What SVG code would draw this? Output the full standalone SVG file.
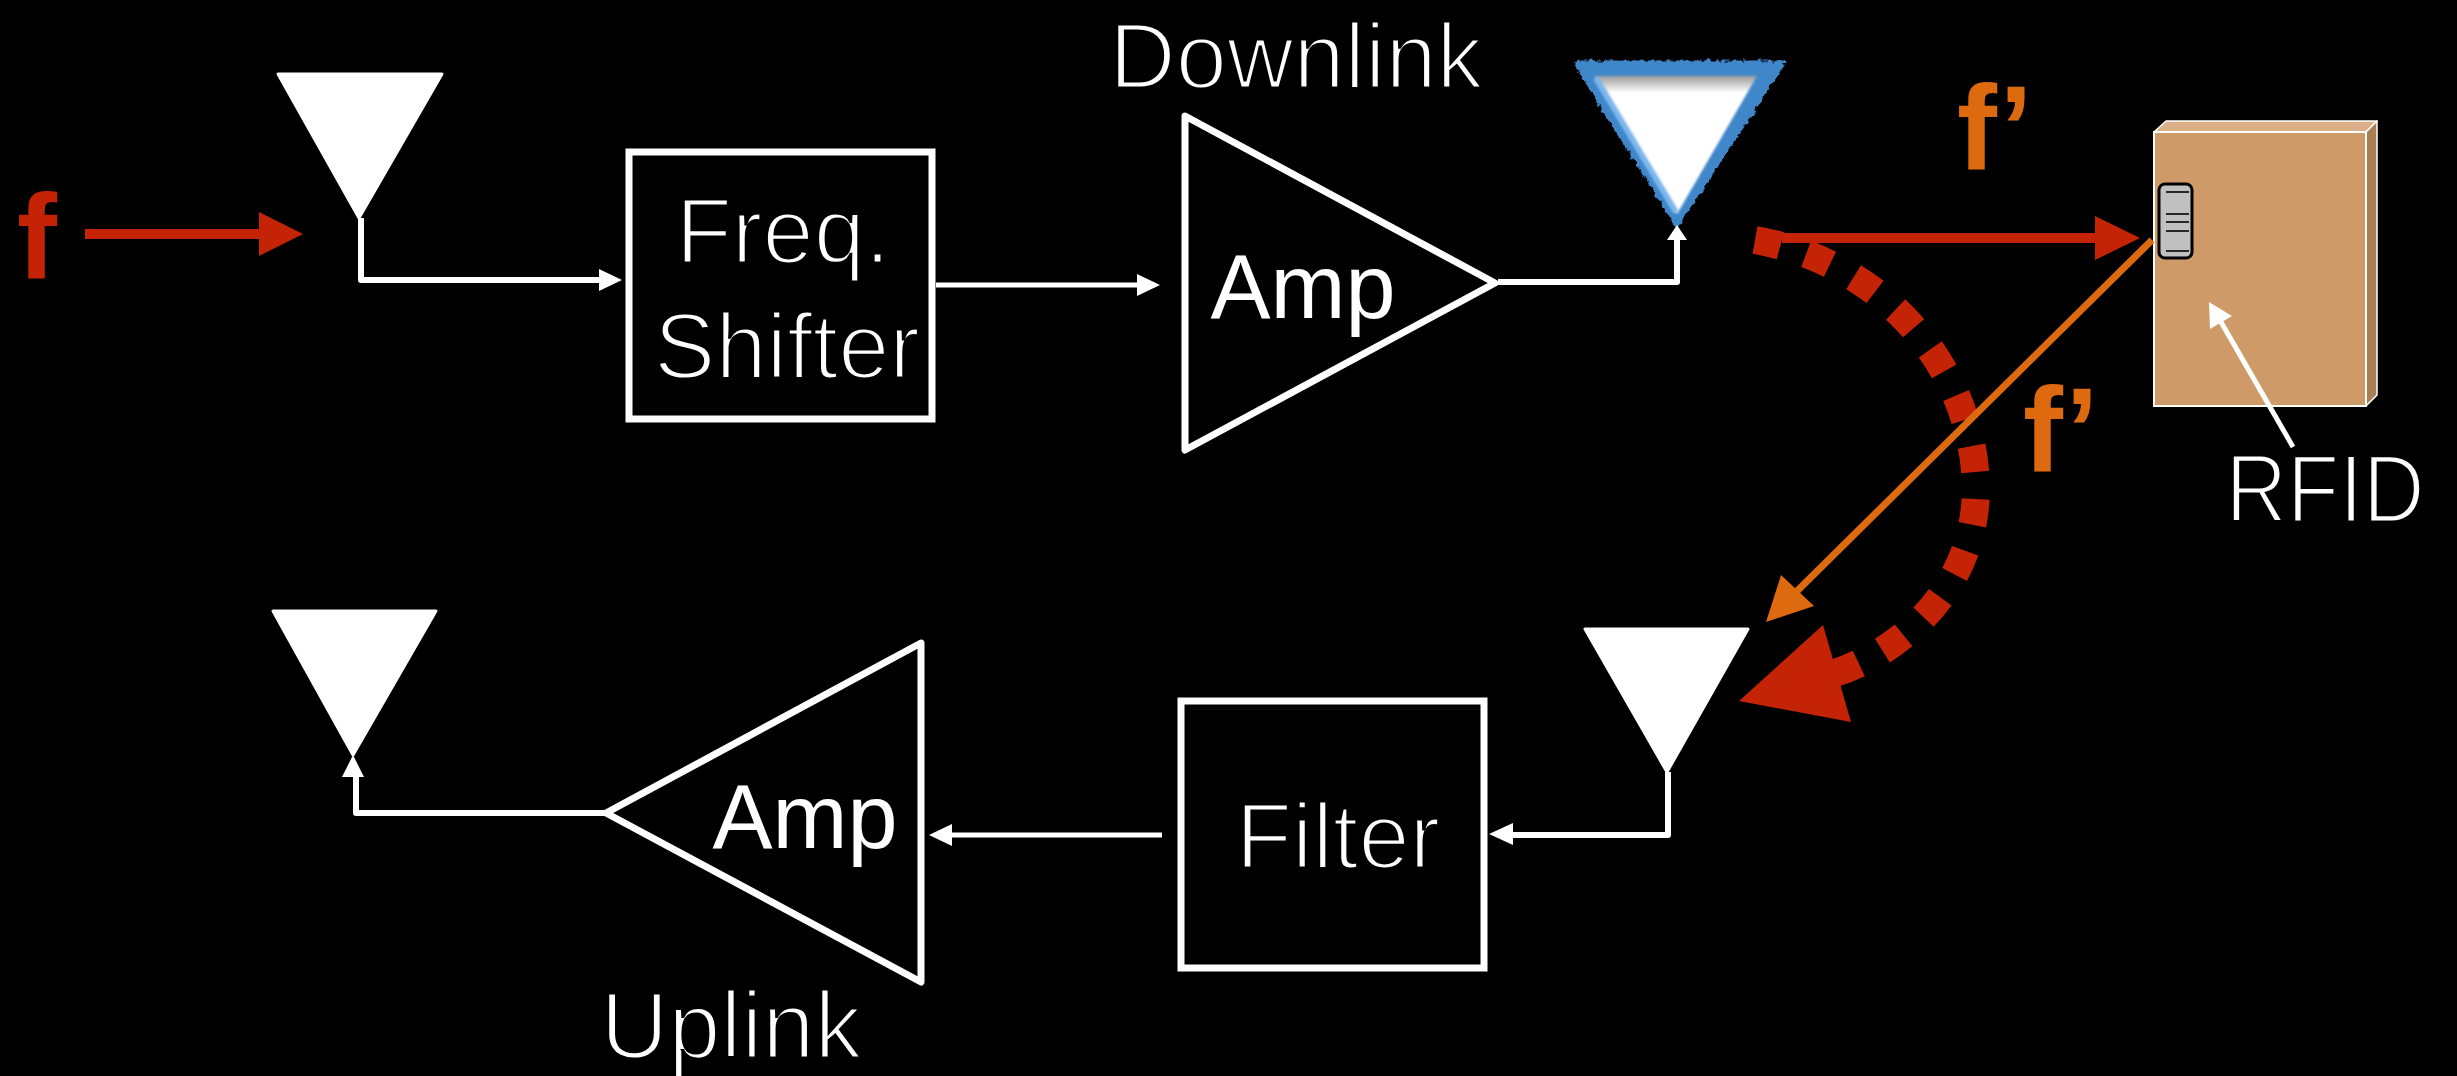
<svg xmlns="http://www.w3.org/2000/svg" width="2457" height="1076" viewBox="0 0 2457 1076">
  <style>
    .wire { fill: none; stroke: #fff; stroke-width: 6; stroke-linejoin: round; stroke-linecap: butt; }
    .thin { stroke-width: 5; }
    .head { fill: #fff; }
    .ant { fill: #fff; stroke: #fff; stroke-width: 3; stroke-linejoin: round; }
    .block { fill: #000; stroke: #fff; stroke-width: 7; }
    .amp { fill: #000; stroke: #fff; stroke-width: 7; stroke-linejoin: round; }
    .light { font-family: "Liberation Sans", Arial, sans-serif; fill: #fff; stroke: #000; stroke-width: 3; text-anchor: middle; }
    .reg { font-family: "Liberation Sans", Arial, sans-serif; fill: #fff; text-anchor: middle; }
    .freq { font-family: "Liberation Sans", Arial, sans-serif; font-weight: bold; font-size: 120px; }
    .red { fill: #C42306; }
    .orange { fill: #DE6A10; }
  </style>
  <defs>
    <filter id="rough" x="-10%" y="-10%" width="120%" height="120%">
      <feTurbulence type="fractalNoise" baseFrequency="0.18" numOctaves="2" seed="3" result="noise"/>
      <feDisplacementMap in="SourceGraphic" in2="noise" scale="7" xChannelSelector="R" yChannelSelector="G"/>
    </filter>
    <filter id="soft" x="-10%" y="-10%" width="120%" height="120%">
      <feGaussianBlur stdDeviation="1.2"/>
    </filter>
    <linearGradient id="antFill" x1="0" y1="76" x2="0" y2="214" gradientUnits="userSpaceOnUse">
      <stop offset="0" stop-color="#9a9a9a"/>
      <stop offset="0.12" stop-color="#ffffff"/>
      <stop offset="1" stop-color="#ffffff"/>
    </linearGradient>
  </defs>

  <rect x="0" y="0" width="2457" height="1076" fill="#000"/>

  <!-- signal labels -->
  <g id="label-f">
    <text class="freq red" x="17" y="279">f</text>
  </g>
  <g id="label-f-prime-1">
    <text class="freq orange" x="1957" y="170">f’</text>
  </g>
  <g id="label-f-prime-2">
    <text class="freq orange" x="2023" y="472">f’</text>
  </g>

  <!-- downlink chain -->
  <g id="antenna-rx-down">
    <polygon class="ant" points="278,74 442,74 359,218"/>
  </g>
  <g id="freq-shifter">
    <rect class="block" x="629" y="152" width="303" height="267"/>
    <text class="light" x="783" y="263" font-size="92">Freq.</text>
    <text class="light" x="787" y="378" font-size="92">Shifter</text>
  </g>
  <g id="amp-down">
    <polygon class="amp" points="1185,116 1495,283 1185,450"/>
    <text class="reg" x="1303" y="318" font-size="90">Amp</text>
  </g>
  <g id="label-downlink">
    <text class="light" x="1296" y="88" font-size="92">Downlink</text>
  </g>
  <g id="antenna-tx-down">
    <polygon points="1576,63 1783,63 1677,225" fill="#3F87CA" stroke="#3F87CA" stroke-width="5" stroke-linejoin="round" filter="url(#rough)"/>
    <g filter="url(#soft)">
      <polygon points="1594,76 1757,76 1677,214" fill="url(#antFill)"/>
      <line x1="1596" y1="78" x2="1676" y2="212" stroke="#7DB8EE" stroke-width="6"/>
    </g>
  </g>

  <!-- RFID tag on a box -->
  <g id="rfid">
    <polygon points="2154,132 2166,121 2377,121 2366,132" fill="#DBB088" stroke="#fff" stroke-width="1.5" stroke-linejoin="round"/>
    <polygon points="2366,132 2377,121 2377,395 2366,406" fill="#A87F55" stroke="#fff" stroke-width="1.5" stroke-linejoin="round"/>
    <rect x="2154" y="132" width="212" height="274" fill="#CD9A68" stroke="#fff" stroke-width="2"/>
    <rect x="2159" y="184" width="33" height="74" rx="6" fill="#C0C0C0" stroke="#000" stroke-width="3"/>
    <g stroke="#000" stroke-width="1.6">
      <line x1="2166" y1="192" x2="2189" y2="192"/>
      <line x1="2166" y1="214" x2="2189" y2="214"/>
      <line x1="2166" y1="222" x2="2189" y2="222"/>
      <line x1="2166" y1="231" x2="2189" y2="231"/>
      <line x1="2166" y1="251" x2="2189" y2="251"/>
    </g>
    <text class="light" x="2325" y="522" font-size="96" textLength="199" lengthAdjust="spacingAndGlyphs">RFID</text>
  </g>

  <!-- uplink chain -->
  <g id="antenna-rx-up">
    <polygon class="ant" points="1585,629 1748,629 1667,772"/>
  </g>
  <g id="filter">
    <rect class="block" x="1181" y="701" width="303" height="267"/>
    <text class="light" x="1338" y="868" font-size="92">Filter</text>
  </g>
  <g id="amp-up">
    <polygon class="amp" points="921,643 606,813 921,982"/>
    <text class="reg" x="805" y="848" font-size="90">Amp</text>
  </g>
  <g id="label-uplink">
    <text class="light" x="731" y="1058" font-size="94">Uplink</text>
  </g>
  <g id="antenna-tx-up">
    <polygon class="ant" points="273,611 436,611 353,755"/>
  </g>

  <!-- connectors -->
  <g id="connectors">
    <!-- incoming signal f -->
    <line x1="85" y1="234" x2="260" y2="234" stroke="#C42306" stroke-width="10"/>
    <polygon class="red" points="259,212 303,234 259,256"/>

    <!-- antenna to frequency shifter -->
    <path class="wire" d="M361,218 V280 H600"/>
    <polygon class="head" points="599,269 622,280 599,291"/>

    <!-- frequency shifter to amplifier -->
    <path class="wire thin" d="M936,285 H1138"/>
    <polygon class="head" points="1137,274 1160,285 1137,296"/>

    <!-- amplifier to transmit antenna -->
    <path class="wire" d="M1498,282 H1677 V239"/>
    <polygon class="head" points="1667,240 1677,225 1687,240"/>

    <!-- f' towards the tag -->
    <line x1="1782" y1="238" x2="2096" y2="238" stroke="#C42306" stroke-width="10"/>
    <polygon class="red" points="2095,216 2140,238 2095,260"/>

    <!-- leakage path -->
    <path d="M1755,240 C1880,262 1965,360 1975,470 C1985,580 1905,650 1835,673" fill="none" stroke="#C42306" stroke-width="28" stroke-dasharray="26 27"/>
    <polygon class="red" points="1739,701 1823,625 1851,722"/>

    <!-- tag backscatter -->
    <line x1="2152" y1="240" x2="1790" y2="598" stroke="#DE6A10" stroke-width="7"/>
    <polygon class="orange" points="1766,622 1781,575 1814,606"/>

    <!-- RFID pointer -->
    <line x1="2293" y1="447" x2="2221" y2="322" stroke="#fff" stroke-width="5"/>
    <polygon class="head" points="2209,302 2210,329 2232,316"/>

    <!-- receive antenna to filter -->
    <path class="wire" d="M1668,772 V835 H1512"/>
    <polygon class="head" points="1513,823 1489,834 1513,845"/>

    <!-- filter to amplifier -->
    <path class="wire thin" d="M1162,835 H951"/>
    <polygon class="head" points="952,824 929,835 952,846"/>

    <!-- amplifier to uplink antenna -->
    <path class="wire" d="M606,813 H356 V776"/>
    <polygon class="head" points="342,777 353,755 364,777"/>
  </g>
</svg>
